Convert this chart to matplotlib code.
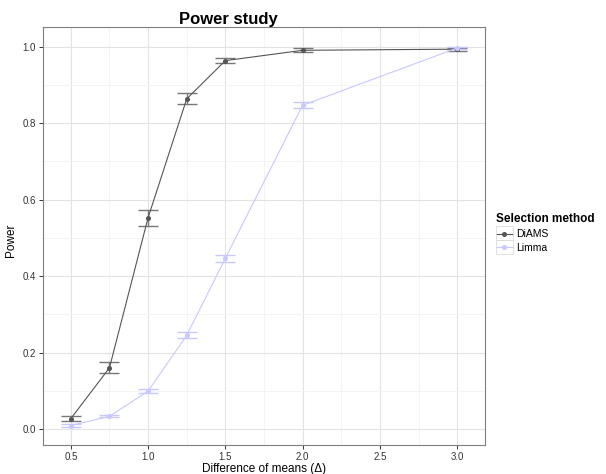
import numpy as np
import matplotlib
matplotlib.use('Agg')
import matplotlib.pyplot as plt
from matplotlib.ticker import MultipleLocator
from matplotlib.patches import Rectangle

plt.rcParams['font.family'] = ['Liberation Sans', 'DejaVu Sans']

# data
delta = [0.5, 0.75, 1.0, 1.25, 1.5, 2.0, 3.0]
diams = [0.027, 0.160, 0.553, 0.864, 0.964, 0.991, 0.994]
diams_err = [0.006, 0.014, 0.021, 0.0145, 0.0075, 0.005, 0.004]
limma = [0.009, 0.033, 0.099, 0.245, 0.447, 0.847, 0.997]
limma_err = [0.003, 0.003, 0.005, 0.008, 0.009, 0.0075, 0.003]

col_d = '#555555'
col_l = '#c8c8ff'

fig = plt.figure(figsize=(6.06, 4.74), dpi=100)
ax = fig.add_axes([43/606, 1-445/474, (485-43)/606, (445-27)/474])

# errorbars first, then lines + points
ax.errorbar(delta, diams, yerr=diams_err, fmt='none', ecolor='#777777',
            elinewidth=1.0, capsize=7.5, capthick=1.0, zorder=3)
ax.errorbar(delta, limma, yerr=limma_err, fmt='none', ecolor=col_l,
            elinewidth=1.0, capsize=7.5, capthick=1.0, zorder=3)
ax.plot(delta, diams, color=col_d, lw=0.8, marker='o', ms=2.6, label='DiAMS', zorder=4)
ax.plot(delta, limma, color=col_l, lw=0.8, marker='o', ms=2.6, label='Limma', zorder=4)

ax.set_xlim(0.32, 3.18)
ax.set_ylim(-0.042, 1.052)
ax.xaxis.set_minor_locator(MultipleLocator(0.25))
ax.yaxis.set_major_locator(MultipleLocator(0.2))
ax.yaxis.set_minor_locator(MultipleLocator(0.1))
ax.set_xticks([0.5, 1.0, 1.5, 2.0, 2.5, 3.0])
ax.set_xticklabels(['0.5', '1.0', '1.5', '2.0', '2.5', '3.0'])
ax.set_yticks([0.0, 0.2, 0.4, 0.6, 0.8, 1.0])
ax.set_yticklabels(['0.0', '0.2', '0.4', '0.6', '0.8', '1.0'])

ax.grid(which='major', color='#e3e3e3', lw=0.8)
ax.grid(which='minor', color='#f3f3f3', lw=0.6)
ax.set_axisbelow(True)
for s in ax.spines.values():
    s.set_color('#7f7f7f')
    s.set_linewidth(0.8)
ax.tick_params(which='major', length=3, width=0.7, color='#333333',
               labelsize=7, labelcolor='#333333', pad=2)
ax.tick_params(which='minor', length=0)

ax.set_xlabel('Difference of means (\u0394)', fontsize=8.5, labelpad=0.5)
ax.set_ylabel('Power', fontsize=8.5)
ax.yaxis.set_label_coords(-(43-17)/442, (445-240)/418)

fig.text(228/606, 1-24/474, 'Power study', fontsize=12, fontweight='bold',
         ha='center', va='baseline')

leg = ax.legend(loc='upper left', bbox_to_anchor=(493/606, 1-210/474),
                bbox_transform=fig.transFigure, frameon=False, fontsize=7.5,
                title='Selection method', handlelength=1.6, handletextpad=0.3,
                labelspacing=0.35, borderaxespad=0, borderpad=0.3)
leg.get_title().set_fontweight('bold')
leg.get_title().set_fontsize(8.5)
leg._legend_box.align = 'left'
leg._legend_box.sep = 3

# grey key boxes like ggplot legend keys
for top in [226, 240]:
    fig.patches.append(Rectangle((496/606, 1-(top+14)/474), 17/606, 14/474,
                                 transform=fig.transFigure, fill=False,
                                 edgecolor='#dcdcdc', lw=0.6))

fig.savefig('out.png', dpi=100)
